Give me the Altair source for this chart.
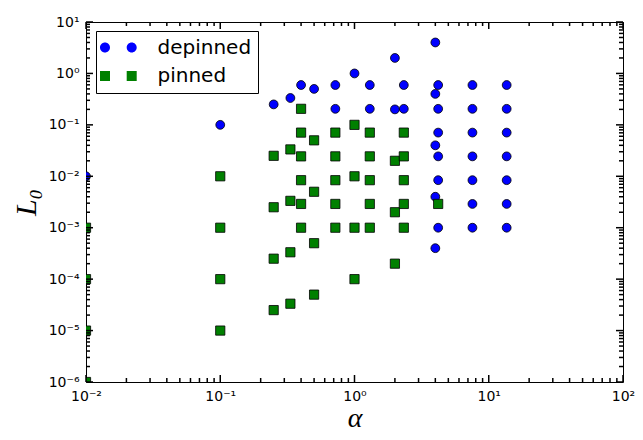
import altair as alt
import pandas as pd

# depinned (blue circles)
dep_x = [0.01, 0.1, 0.25, 0.333, 0.4, 0.5, 0.72, 0.72, 1.0, 1.3, 1.3, 2.0, 2.0, 2.33, 2.33,
         4.0, 4.0, 4.0, 4.0, 4.0,
         4.2, 4.2, 4.2, 4.2, 4.2, 4.2,
         7.56, 7.56, 7.56, 7.56, 7.56, 7.56, 7.56,
         13.6, 13.6, 13.6, 13.6, 13.6, 13.6, 13.6]
dep_y = [0.01, 0.1, 0.25, 0.333, 0.595, 0.5, 0.595, 0.205, 1.0, 0.595, 0.205, 2.0, 0.2, 0.595, 0.205,
         4.0, 0.4, 0.04, 0.004, 0.0004,
         0.595, 0.205, 0.0707, 0.0244, 0.0084, 0.001,
         0.595, 0.205, 0.0707, 0.0244, 0.0084, 0.0029, 0.001,
         0.595, 0.205, 0.0707, 0.0244, 0.0084, 0.0029, 0.001]

# pinned (green squares)
pin_x = [0.01, 0.01, 0.01, 0.01,
         0.1, 0.1, 0.1, 0.1,
         0.25, 0.25, 0.25, 0.25,
         0.333, 0.333, 0.333, 0.333,
         0.4, 0.4, 0.4, 0.4, 0.4, 0.4,
         0.5, 0.5, 0.5, 0.5,
         0.72, 0.72, 0.72, 0.72, 0.72,
         1.0, 1.0, 1.0, 1.0,
         1.3, 1.3, 1.3, 1.3, 1.3,
         2.0, 2.0, 2.0,
         2.33, 2.33, 2.33, 2.33, 2.33,
         4.2]
pin_y = [1e-3, 1e-4, 1e-5, 1e-6,
         0.01, 1e-3, 1e-4, 1e-5,
         0.025, 0.0025, 0.00025, 0.000025,
         0.0333, 0.00333, 0.000333, 0.0000333,
         0.205, 0.0707, 0.0244, 0.0084, 0.0029, 0.001,
         0.05, 0.005, 0.0005, 0.00005,
         0.0707, 0.0244, 0.0084, 0.0029, 0.001,
         0.1, 0.01, 0.001, 0.0001,
         0.0707, 0.0244, 0.0084, 0.0029, 0.001,
         0.02, 0.002, 0.0002,
         0.0707, 0.0244, 0.0084, 0.0029, 0.001,
         0.0029]

series = ["depinned", "pinned"]
colors = ["#0000ff", "#008000"]

x_major = [0.01, 0.1, 1.0, 10.0, 100.0]
y_major = [1e-6, 1e-5, 1e-4, 1e-3, 1e-2, 1e-1, 1.0, 10.0]
x_minor = [m * 10.0 ** k for k in range(-2, 2) for m in range(2, 10)]
y_minor = [m * 10.0 ** k for k in range(-6, 1) for m in range(2, 10)]

# one table: data points plus tick positions (x ticks carry y=1, y ticks carry x=1)
df = pd.DataFrame({
    "x": dep_x + pin_x + x_major + x_minor + [1.0] * (len(y_major) + len(y_minor)),
    "y": dep_y + pin_y + [1.0] * (len(x_major) + len(x_minor)) + y_major + y_minor,
    "kind": ([series[0]] * len(dep_x) + [series[1]] * len(pin_x)
             + ["xmaj"] * len(x_major) + ["xmin"] * len(x_minor)
             + ["ymaj"] * len(y_major) + ["ymin"] * len(y_minor)),
})

W, H = 537, 360
MAJ, MIN = 7, 4
xs = alt.Scale(type="log", domain=[0.01, 100], nice=False)
ys = alt.Scale(type="log", domain=[1e-6, 10], nice=False)

sup = "['⁰','¹','²','³','⁴','⁵','⁶','⁷'][abs(round(log(datum.value)/LN10))]"
lab = "'10' + (datum.value < 0.999 ? '⁻' : '') + " + sup

lab_common = dict(labelFont="DejaVu Sans", labelFontSize=14, labelColor="black",
                  labelFlush=False, labelOverlap=False, labelBound=False,
                  ticks=False, domain=False, grid=False)

base = alt.Chart(df)

circles = base.transform_filter("datum.kind == 'depinned'").mark_point(
    shape="circle", filled=True, size=78, fill=colors[0], stroke="black",
    strokeWidth=0.8, opacity=1, clip=True
).encode(
    x=alt.X("x:Q", scale=xs, axis=alt.Axis(
        orient="bottom", values=x_major, labelExpr=lab, labelPadding=7,
        title="α", titleFont="Liberation Serif", titleFontStyle="italic",
        titleFontWeight="normal", titleFontSize=28, titleColor="black",
        titlePadding=1, **lab_common)),
    y=alt.Y("y:Q", scale=ys, axis=alt.Axis(
        orient="left", values=y_major, labelExpr=lab, labelPadding=7,
        title="L₀", titleFont="Liberation Serif", titleFontStyle="italic",
        titleFontWeight="normal", titleFontSize=30, titleColor="black",
        titlePadding=7, **lab_common)),
)

squares = base.transform_filter("datum.kind == 'pinned'").mark_point(
    shape="square", filled=True, size=85, fill=colors[1], stroke="black",
    strokeWidth=0.8, opacity=1, clip=True
).encode(
    x=alt.X("x:Q", scale=xs, axis=None),
    y=alt.Y("y:Q", scale=ys, axis=None),
)

two_circles = ("M1,0 A1,1 0 1,1 -1,0 A1,1 0 1,1 1,0 Z "
               "M6.34,0 A1,1 0 1,1 4.34,0 A1,1 0 1,1 6.34,0 Z")
two_squares = ("M-1,-1 L1,-1 L1,1 L-1,1 Z "
               "M4.34,-1 L6.34,-1 L6.34,1 L4.34,1 Z")

leg = dict(title=None, orient="none", legendX=10, legendY=9, direction="vertical",
           padding=6.5, strokeColor="black", fillColor="white", cornerRadius=0,
           labelFont="DejaVu Sans", labelFontSize=20, labelColor="black",
           labelExpr="datum.label + '\u00a0\u00a0'",
           labelOffset=42.5, labelLimit=0, symbolSize=100, symbolOffset=-7.5,
           symbolStrokeColor="black", symbolStrokeWidth=0.8, symbolOpacity=1,
           rowPadding=8.6)

legend_layer = base.transform_filter("false").mark_point(
    filled=True, size=100, stroke="black", strokeWidth=0.8, opacity=1
).encode(
    x=alt.X("x:Q", scale=xs, axis=None),
    y=alt.Y("y:Q", scale=ys, axis=None),
    shape=alt.Shape("kind:N", scale=alt.Scale(domain=series, range=[two_circles, two_squares]),
                    legend=alt.Legend(**leg)),
    color=alt.Color("kind:N", scale=alt.Scale(domain=series, range=colors),
                    legend=alt.Legend(**leg)),
)


# inward tick marks drawn as stroked path symbols (length = sqrt(size) px)
def x_ticks(kind, length, top):
    path = "M0,0 L0,2" if top else "M0,0 L0,-2"
    return base.transform_filter(f"datum.kind == '{kind}'").mark_point(
        shape=path, size=length * length, filled=False, color="black",
        strokeWidth=1.5, opacity=1
    ).encode(x=alt.X("x:Q", scale=xs, axis=None), y=alt.value(0 if top else H))


def y_ticks(kind, length, right):
    path = "M0,0 L-2,0" if right else "M0,0 L2,0"
    return base.transform_filter(f"datum.kind == '{kind}'").mark_point(
        shape=path, size=length * length, filled=False, color="black",
        strokeWidth=1.5, opacity=1
    ).encode(y=alt.Y("y:Q", scale=ys, axis=None), x=alt.value(W if right else 0))


tick_layers = [
    x_ticks("xmaj", MAJ, False), x_ticks("xmin", MIN, False),
    x_ticks("xmaj", MAJ, True), x_ticks("xmin", MIN, True),
    y_ticks("ymaj", MAJ, False), y_ticks("ymin", MIN, False),
    y_ticks("ymaj", MAJ, True), y_ticks("ymin", MIN, True),
]

chart = alt.layer(circles, squares, legend_layer, *tick_layers).resolve_axis(
    x="independent", y="independent"
).properties(
    width=W, height=H,
    autosize=alt.AutoSizeParams(type="none"),
    padding={"left": 78, "top": 14, "right": 12, "bottom": 50},
    background="white",
).configure_view(stroke="black", strokeWidth=1)

chart.save("out.html", embed_options={"renderer": "svg", "actions": False})
